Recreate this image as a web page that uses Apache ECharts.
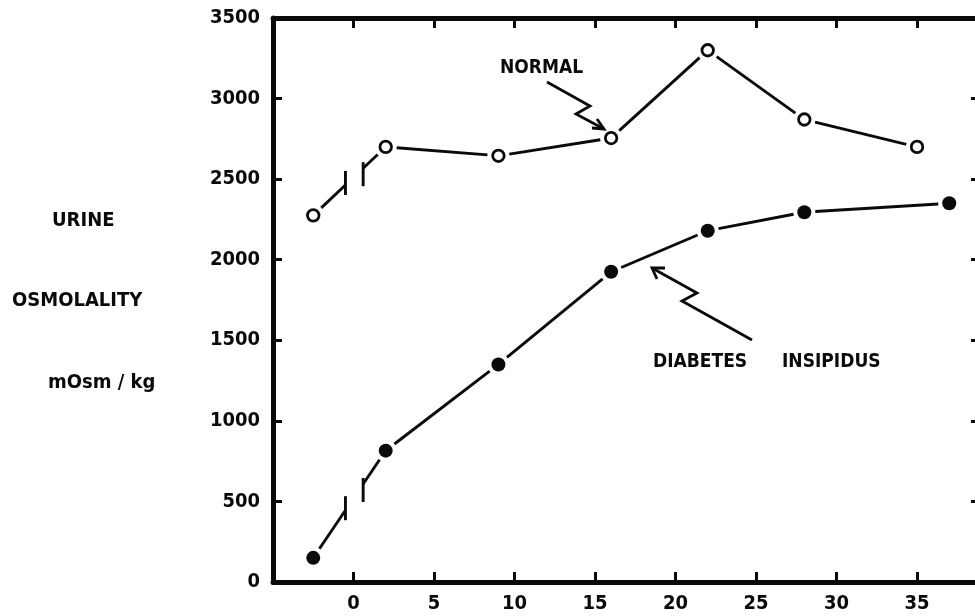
<!DOCTYPE html>
<html>
<head>
<meta charset="utf-8">
<script src="https://cdn.jsdelivr.net/npm/echarts@6/dist/echarts.min.js"></script>
<style>
  html, body { margin: 0; padding: 0; background: #fff; }
  #chart { width: 975px; height: 616px; }
</style>
</head>
<body>
<div id="chart"></div>
<script>
// ---- data ----
const normalDays   = [-2.5, 2, 9, 16, 22, 28, 35];
const normalValues = [2275, 2700, 2645, 2755, 3300, 2870, 2700];
const diDays       = [-2.5, 2, 9, 16, 22, 28, 37];
const diValues     = [150, 815, 1350, 1925, 2180, 2295, 2350];
const xTickValues  = [0, 5, 10, 15, 20, 25, 30, 35];
const yTitleLines  = ['URINE', 'OSMOLALITY', 'mOsm / kg'];
const labelNormal  = 'NORMAL';
const labelDI      = ['DIABETES', 'INSIPIDUS'];
const axisBreak    = [-0.5, 0.6];   // x-range where the lines are interrupted

const FONT = "'DejaVu Sans Condensed', 'DejaVu Sans', sans-serif";
const INK = '#0a0a0a';

function pairs(xs, ys) { return xs.map((x, i) => [x, ys[i]]); }
function segments(xs, ys) {
  const out = [];
  for (let i = 0; i < xs.length - 1; i++) out.push([xs[i], ys[i], xs[i + 1], ys[i + 1]]);
  return out;
}

const GAP = 11;
function renderSegment(params, api) {
  const x1 = api.value(0), y1 = api.value(1), x2 = api.value(2), y2 = api.value(3);
  const p1 = api.coord([x1, y1]), p2 = api.coord([x2, y2]);
  const dx = p2[0] - p1[0], dy = p2[1] - p1[1];
  const len = Math.sqrt(dx * dx + dy * dy);
  const ux = dx / len, uy = dy / len;
  const q1 = [p1[0] + ux * GAP, p1[1] + uy * GAP];
  const q2 = [p2[0] - ux * GAP, p2[1] - uy * GAP];
  const style = { stroke: INK, lineWidth: 2.9, fill: null };
  const children = [];
  if (x1 < axisBreak[0] && x2 > axisBreak[1]) {
    const bl = api.coord([axisBreak[0], 0])[0];
    const br = api.coord([axisBreak[1], 0])[0];
    const yAt = (x) => p1[1] + (x - p1[0]) * dy / dx;
    const yl = yAt(bl), yr = yAt(br);
    children.push({ type: 'line', shape: { x1: q1[0], y1: q1[1], x2: bl, y2: yl }, style });
    children.push({ type: 'line', shape: { x1: br, y1: yr, x2: q2[0], y2: q2[1] }, style });
    children.push({ type: 'line', shape: { x1: bl, y1: yl - 14, x2: bl, y2: yl + 10 }, style });
    children.push({ type: 'line', shape: { x1: br, y1: yr - 6, x2: br, y2: yr + 18 }, style });
  } else {
    children.push({ type: 'line', shape: { x1: q1[0], y1: q1[1], x2: q2[0], y2: q2[1] }, style });
  }
  return { type: 'group', children };
}

const axisLineStyle = { color: INK, width: 5 };
const tickStyle = { color: INK, width: 3 };
const plain = (v) => String(v);

const chart = echarts.init(document.getElementById('chart'), null, { renderer: 'canvas' });
chart.setOption({
  animation: false,
  backgroundColor: '#ffffff',
  grid: { left: 273, right: 0, top: 18, bottom: 34, containLabel: false },
  xAxis: [
    {
      type: 'value', position: 'bottom', min: -5, max: 38.6,
      axisLine: { show: true, onZero: false, lineStyle: axisLineStyle },
      axisTick: { show: true, inside: true, length: 10, lineStyle: tickStyle, customValues: xTickValues },
      axisLabel: { show: true, customValues: xTickValues, formatter: plain, color: INK, fontFamily: FONT, fontWeight: 'bold', fontSize: 20, margin: 12 },
      splitLine: { show: false }
    },
    {
      type: 'value', position: 'top', min: -5, max: 38.6,
      axisLine: { show: true, onZero: false, lineStyle: axisLineStyle },
      axisTick: { show: true, inside: true, length: 10, lineStyle: tickStyle, customValues: xTickValues },
      axisLabel: { show: false },
      splitLine: { show: false }
    }
  ],
  yAxis: [
    {
      type: 'value', position: 'left', min: 0, max: 3500, interval: 500,
      axisLine: { show: true, onZero: false, lineStyle: axisLineStyle },
      axisTick: { show: true, inside: true, length: 9, lineStyle: tickStyle },
      axisLabel: { show: true, formatter: plain, color: INK, fontFamily: FONT, fontWeight: 'bold', fontSize: 20, margin: 13 },
      splitLine: { show: false }
    },
    {
      type: 'value', position: 'right', min: 0, max: 3500, interval: 500,
      axisLine: { show: false, onZero: false },
      axisTick: { show: true, inside: true, length: 4, lineStyle: tickStyle },
      axisLabel: { show: false },
      splitLine: { show: false }
    }
  ],
  series: [
    {
      name: 'Normal lines', type: 'custom', xAxisIndex: 0, yAxisIndex: 0,
      renderItem: renderSegment, encode: { x: [0, 2], y: [1, 3] },
      data: segments(normalDays, normalValues), silent: true
    },
    {
      name: 'Diabetes insipidus lines', type: 'custom', xAxisIndex: 0, yAxisIndex: 0,
      renderItem: renderSegment, encode: { x: [0, 2], y: [1, 3] },
      data: segments(diDays, diValues), silent: true
    },
    {
      name: 'Normal', type: 'scatter', xAxisIndex: 0, yAxisIndex: 0,
      symbol: 'circle', symbolSize: 11.5,
      itemStyle: { color: '#ffffff', borderColor: INK, borderWidth: 2.8, opacity: 1 },
      data: pairs(normalDays, normalValues), z: 5, silent: true
    },
    {
      name: 'Diabetes insipidus', type: 'scatter', xAxisIndex: 0, yAxisIndex: 0,
      symbol: 'circle', symbolSize: 14,
      itemStyle: { color: INK, opacity: 1 },
      data: pairs(diDays, diValues), z: 5, silent: true
    }
  ],
  graphic: [
    { type: 'text', left: 52, top: 211, style: { text: yTitleLines[0], fill: INK, font: "bold 20px " + FONT } },
    { type: 'text', left: 12, top: 291, style: { text: yTitleLines[1], fill: INK, font: "bold 20px " + FONT } },
    { type: 'text', left: 48, top: 373, style: { text: yTitleLines[2], fill: INK, font: "bold 20px " + FONT } },
    { type: 'text', left: 500, top: 59, style: { text: labelNormal, fill: INK, font: "bold 19px " + FONT } },
    { type: 'text', left: 653, top: 353, style: { text: labelDI[0], fill: INK, font: "bold 19px " + FONT } },
    { type: 'text', left: 782, top: 353, style: { text: labelDI[1], fill: INK, font: "bold 19px " + FONT } },
    // NORMAL pointer
    { type: 'polyline', shape: { points: [[547, 82], [590, 106], [576, 114], [604, 129]] },
      style: { stroke: INK, lineWidth: 2.8, fill: null } },
    { type: 'polyline', shape: { points: [[597, 119], [604, 129], [592, 128]] },
      style: { stroke: INK, lineWidth: 2.8, fill: null } },
    // DIABETES INSIPIDUS pointer
    { type: 'polyline', shape: { points: [[752, 340], [682, 301], [697, 293], [652, 268]] },
      style: { stroke: INK, lineWidth: 2.8, fill: null } },
    { type: 'polyline', shape: { points: [[665, 268], [652, 268], [657, 279]] },
      style: { stroke: INK, lineWidth: 2.8, fill: null } }
  ]
});
</script>
</body>
</html>
